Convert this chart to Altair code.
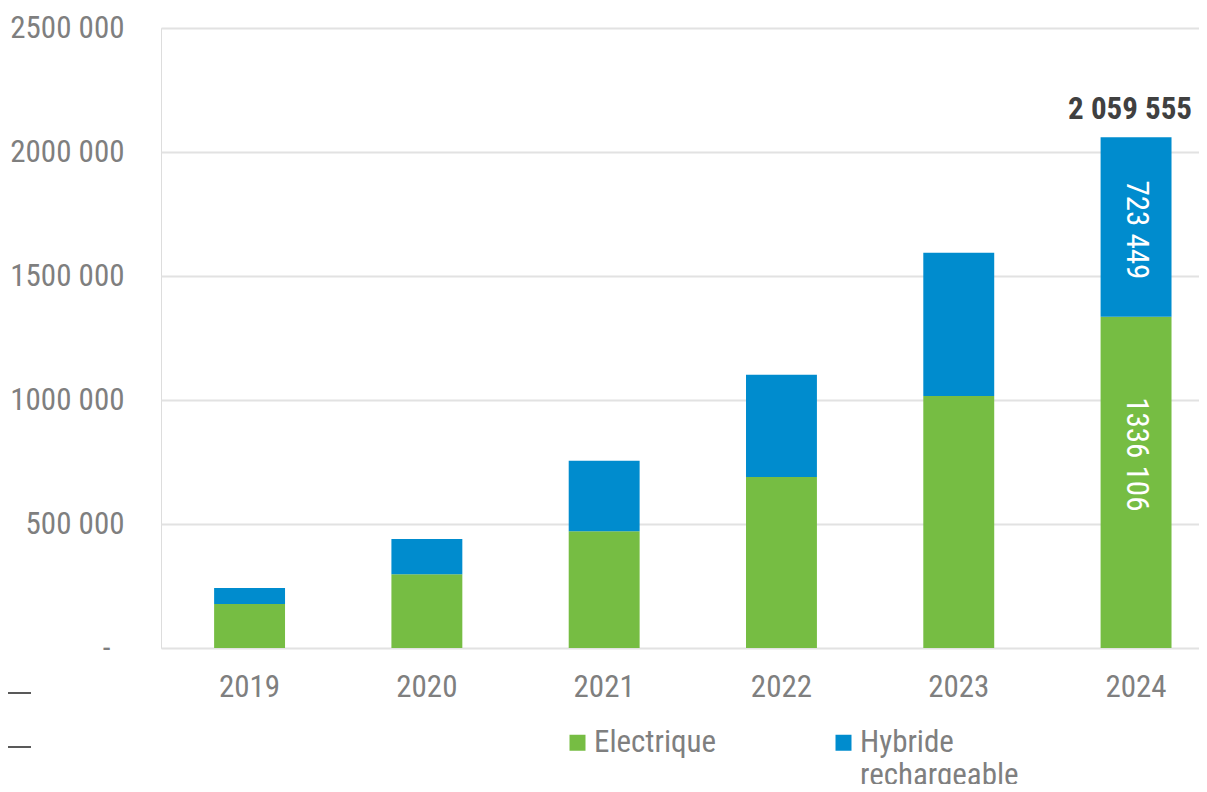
import altair as alt
import pandas as pd

years = ["2019", "2020", "2021", "2022", "2023", "2024"]
electrique = [177000, 297000, 471000, 690000, 1016000, 1336106]
hybride = [65000, 143000, 284000, 412000, 578000, 723449]
series = ["Electrique", "Hybride rechargeable"]
colors = ["#76BD43", "#008CCE"]
y_ticks = [0, 500000, 1000000, 1500000, 2000000, 2500000]

FONT = "Roboto Condensed"
GREY = "#7F7F7F"


def fmt_thousands(v):
    v = int(round(v))
    return f"{v // 1000} {v % 1000:03d}"


def fmt_fr(v):
    return f"{int(round(v)):,}".replace(",", " ")


rows = []
for i, y in enumerate(years):
    rows.append({"year": y, "series": series[0], "value": electrique[i], "ord": 0,
                 "lbl": fmt_thousands(electrique[i])})
    rows.append({"year": y, "series": series[1], "value": hybride[i], "ord": 1,
                 "lbl": fmt_thousands(hybride[i])})
df = pd.DataFrame(rows)

tot = pd.DataFrame({
    "year": years,
    "total": [e + h for e, h in zip(electrique, hybride)],
})
tot["lbl"] = tot["total"].apply(fmt_fr)

x_enc = alt.X(
    "year:N",
    sort=years,
    scale=alt.Scale(paddingInner=0.6, paddingOuter=0.2273, align=0.659),
    axis=alt.Axis(
        title=None, domain=False, ticks=False, tickSize=0, labelAngle=0,
        labelFont=FONT, labelFontSize=31, labelColor=GREY, labelPadding=24,
        grid=False,
    ),
)

y_scale = alt.Scale(domain=[0, 2500000], nice=False)

bars = alt.Chart(df).mark_bar().encode(
    x=x_enc,
    y=alt.Y(
        "value:Q",
        stack="zero",
        scale=y_scale,
        axis=alt.Axis(
            title=None, values=y_ticks, domain=False, ticks=False, tickSize=0,
            labelFont=FONT, labelFontSize=31, labelColor=GREY,
            labelPadding={"condition": {"test": "datum.value === 0", "value": 51}, "value": 37},
            gridColor="#E2E2E2", gridWidth=2,
            labelExpr="datum.value == 0 ? '-' : format(datum.value / 1000, 'd') + ' 000'",
        ),
    ),
    color=alt.Color(
        "series:N",
        scale=alt.Scale(domain=series, range=colors),
        legend=alt.Legend(
            title=None, orient="none", direction="horizontal",
            legendX=401, legendY=699, padding=0,
            symbolType="square", symbolSize=256, symbolStrokeWidth=0,
            labelFont=FONT, labelFontSize=31, labelColor=GREY,
            labelOffset=1, columnPadding=111, labelLimit=400,
            labelBaseline="middle",
            labelExpr="datum.label == 'Hybride rechargeable' ? ['Hybride', 'rechargeable'] : [datum.label, ' ']",
        ),
    ),
    order=alt.Order("ord:Q", sort="ascending"),
)

stacked = alt.Chart(df).transform_filter(
    alt.datum.year == "2024"
).transform_stack(
    stack="value", groupby=["year"], as_=["v0", "v1"],
    sort=[alt.SortField("ord", order="ascending")],
).transform_calculate(mid="(datum.v0 + datum.v1) / 2")

lbl_green = stacked.transform_filter(alt.datum.ord == 0).mark_text(
    angle=90, align="center", baseline="middle", color="white",
    font=FONT, fontSize=31, dx=-28,
).encode(x=alt.X("year:N", sort=years), y=alt.Y("mid:Q", scale=y_scale), text="lbl:N")

lbl_blue = stacked.transform_filter(alt.datum.ord == 1).mark_text(
    angle=90, align="center", baseline="middle", color="white",
    font=FONT, fontSize=31, dx=3,
).encode(x=alt.X("year:N", sort=years), y=alt.Y("mid:Q", scale=y_scale), text="lbl:N")

total_lbl = alt.Chart(tot).transform_filter(alt.datum.year == "2024").mark_text(
    align="center", baseline="bottom", color="#404040", font=FONT,
    fontSize=31, fontWeight="bold", dy=-11, dx=-6,
).encode(x=alt.X("year:N", sort=years), y=alt.Y("total:Q", scale=y_scale), text="lbl:N")

dashes = pd.DataFrame({"k": [0, 1]})
dash1 = alt.Chart(dashes).transform_filter(alt.datum.k == 0).mark_rule(
    color="#595959", strokeWidth=2
).encode(x=alt.value(-160), x2=alt.value(-130), y=alt.value(665))
dash2 = alt.Chart(dashes).transform_filter(alt.datum.k == 1).mark_rule(
    color="#595959", strokeWidth=2
).encode(x=alt.value(-160), x2=alt.value(-130), y=alt.value(719))

chart = alt.layer(bars, lbl_green, lbl_blue, total_lbl, dash1, dash2).properties(
    width=1038,
    height=620,
    autosize=alt.AutoSizeParams(type="none"),
    padding={"left": 153, "top": 20, "right": 0, "bottom": 136},
).configure_view(stroke=None).configure(background="white")

chart.save("out.html", embed_options={"renderer": "svg", "actions": False})
